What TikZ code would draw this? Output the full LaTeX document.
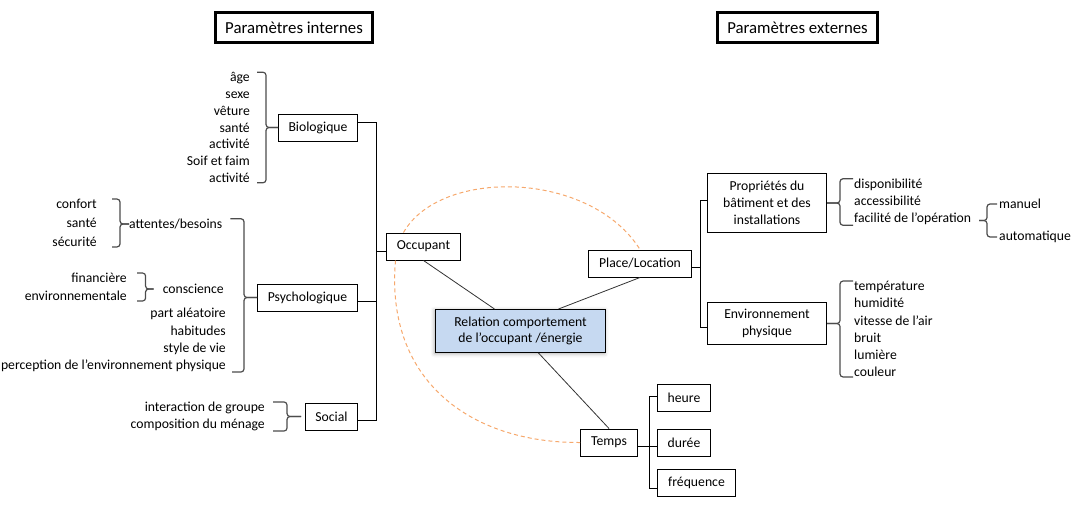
\documentclass[tikz,border=0pt]{standalone}
\usepackage{fontspec}
\setmainfont{Carlito}
\usetikzlibrary{calc,shadows.blur}

\definecolor{relblue}{RGB}{198,217,241}
\definecolor{trailorange}{RGB}{246,168,108}

\begin{document}
\begin{tikzpicture}[x=1pt,y=-1pt]

  \useasboundingbox (0,0) rectangle (1076,507);

  \edef\boxh{27}
  \tikzstyle{box}=[draw, line width=1pt, minimum height=\boxh, inner sep=2pt, font=\fontsize{13.7}{16.8}\selectfont]
  \tikzstyle{head}=[draw, line width=3pt, minimum height=30, font=\fontsize{16.8}{20}\selectfont]
  \tikzstyle{items}=[inner sep=0pt, align=right, font=\fontsize{13.7}{16.8}\selectfont]
  \tikzstyle{itemsl}=[inner sep=0pt, align=left, font=\fontsize{13.7}{17.2}\selectfont]
  \tikzstyle{tree}=[line width=1pt]
  \tikzstyle{link}=[line width=0.8pt, black!80]
  \tikzstyle{brk}=[line width=1.2pt, black!70, rounded corners=3pt]
  \tikzstyle{trail}=[line width=1pt, trailorange, dash pattern=on 4pt off 3pt]

  % headers
  \node[head, minimum width=157] (intern) at (294,27.5) {Paramètres internes};
  \node[head, minimum width=160] (extern) at (797.5,27.5) {Paramètres externes};

  % center
  \node[box, fill=relblue, minimum width=170, minimum height=43, align=center,
        font=\fontsize{13.7}{15.5}\selectfont,
        blur shadow={shadow xshift=-1pt, shadow yshift=-1pt, shadow blur radius=4pt, shadow opacity=35}]
        (rel) at (520.5,331) {Relation comportement\\de l’occupant /énergie};

  % main boxes
  \node[box, minimum width=74] (occ) at (423.5,246.5) {Occupant};
  \node[box, minimum width=103] (place) at (640,263.5) {Place/Location};
  \node[box, minimum width=57] (temps) at (609,442.5) {Temps};

  % internal parameters
  \node[box, minimum width=79] (bio) at (318,127.5) {Biologique};
  \node[box, minimum width=100] (psy) at (307.5,297.5) {Psychologique};
  \node[box, minimum width=52] (soc) at (331.5,416.5) {Social};

  % external parameters
  \node[box, minimum width=119, minimum height=59, align=center] (prop) at (767,203) {Propriétés du\\bâtiment et des\\installations};
  \node[box, minimum width=119, minimum height=42, align=center] (env) at (767,323.5) {Environnement\\physique};
  \node[box, minimum width=53] (heure) at (684,398) {heure};
  \node[box, minimum width=53] (duree) at (684,442.5) {durée};
  \node[box, minimum width=78] (freq) at (696.5,483) {fréquence};

  % lists left
  \node[items, anchor=east] (bioL) at (250,127.5) {âge\\sexe\\vêture\\santé\\activité\\Soif et faim\\activité};
  \node[items, anchor=east, font=\fontsize{13.7}{19}\selectfont] (attL) at (97,223) {confort\\santé\\sécurité};
  \node[items, anchor=west] (att) at (129,224) {attentes/besoins};
  \node[items, anchor=east, font=\fontsize{13.7}{18}\selectfont] (consL) at (127,287) {financière\\environnementale};
  \node[items, anchor=east] (cons) at (224,289) {conscience};
  \node[items, anchor=east, font=\fontsize{13.7}{17.3}\selectfont] (psyL) at (226,340) {part aléatoire\\habitudes\\style de vie\\perception de l’environnement physique};
  \node[items, anchor=east] (socL) at (265,416.5) {interaction de groupe\\composition du ménage};

  % lists right
  \node[itemsl, anchor=west] (propL) at (854,202) {disponibilité\\accessibilité\\facilité de l’opération};
  \node[itemsl, anchor=west] (man) at (999,204) {manuel};
  \node[itemsl, anchor=west] (auto) at (999,237) {automatique};
  \node[itemsl, anchor=west] (envL) at (854,329) {température\\humidité\\vitesse de l’air\\bruit\\lumière\\couleur};

  % tree lines
  \coordinate (occT) at ([xshift=-10,yshift=-4.5]occ.west);
  \foreach \n/\s in {bio/5,psy/-3.5,soc/-3.5}
    \draw[tree] ([yshift=\s]\n.east) -| (occT);
  \draw[tree] (occT) -- ([yshift=-4.5]occ.west);

  \coordinate (plT) at ([xshift=8,yshift=-3.5]place.east);
  \foreach \n/\s in {prop/3,env/-3.5}
    \draw[tree] ([yshift=\s]\n.west) -| (plT);
  \draw[tree] (plT) -- ([yshift=-3.5]place.east);

  \coordinate (tmT) at ([xshift=11,yshift=-3.5]temps.east);
  \foreach \n/\s in {heure/2,freq/-5}
    \draw[tree] ([yshift=\s]\n.west) -| (tmT);
  \draw[tree] ([yshift=-3.5]temps.east) -- ([yshift=-3.5]duree.west);

  % links to the center
  \draw[link] (occ.south) -- ([xshift=-26]rel.north);
  \draw[link] (place.south) -- ([xshift=38]rel.north);
  \draw[link] ([xshift=18]rel.south) -- (temps.north);

  % dashed trail
  \draw[trail] ([xshift=-20]occ.north) .. controls (440,168) and (590,170) .. (place.north);
  \draw[trail] ([xshift=-28]occ.south) .. controls (385,380) and (470,443) .. (temps.west);

  % brackets left
  \coordinate (bioB) at ([xshift=-12]bio.west);
  \foreach \a in {north east,south east}
    \draw[brk] ([xshift=7]bioL.\a) -| (bioB) -- (bio.west);

  \coordinate (attB) at ([xshift=-9]att.west);
  \foreach \a in {north east,south east}
    \draw[brk] ([xshift=15]attL.\a) -| (attB) -- (att.west);

  \coordinate (consB) at ([xshift=-17]cons.west);
  \foreach \a in {north east,south east}
    \draw[brk] ([xshift=10]consL.\a) -| (consB) -- ([xshift=-9]cons.west);

  \coordinate (psyB) at ([xshift=-13]psy.west);
  \draw[brk] ([xshift=8]att.north east) -| (psyB) -- (psy.west);
  \draw[brk] ([xshift=6]psyL.south east) -| (psyB) -- (psy.west);

  \coordinate (socB) at ([xshift=-18]soc.west);
  \foreach \a in {north east,south east}
    \draw[brk] ([xshift=8]socL.\a) -| (socB) -- ([xshift=-4]soc.west);

  % brackets right
  \coordinate (propB) at ([xshift=13]prop.east);
  \foreach \a in {north west,south west}
    \draw[brk] ([xshift=-1]propL.\a) -| (propB) -- (prop.east);

  \coordinate (envB) at ([xshift=13]env.east);
  \foreach \a in {north west,south west}
    \draw[brk] ([xshift=-1]envL.\a) -| (envB) -- (env.east);

  \coordinate (tipF) at ($(man.west)!0.5!(auto.west)+(-20,0)$);
  \coordinate (tipB) at ([xshift=8]tipF);
  \foreach \n in {man,auto}
    \draw[brk] ([xshift=-2]\n.west) -| (tipB) -- (tipF);

\end{tikzpicture}
\end{document}
